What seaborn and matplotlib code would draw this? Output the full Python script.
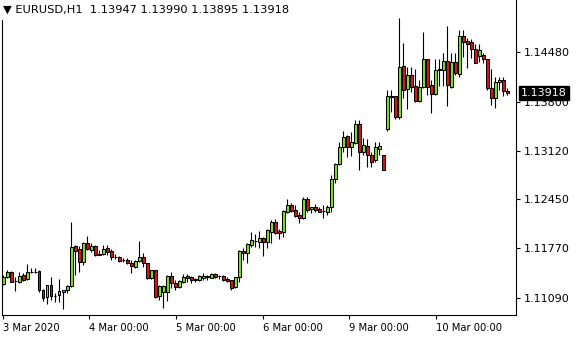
import numpy as np
import pandas as pd
import matplotlib
matplotlib.use("Agg")
import matplotlib.pyplot as plt
import matplotlib.transforms as mtrans
import seaborn as sns

title_text = "\u25BC EURUSD,H1  1.13947 1.13990 1.13895 1.13918"
last_price = 1.13918

opens = [1.11279, 1.11380, 1.11445, 1.11318, 1.11311, 1.11404, 1.11344, 1.11445, 1.11450, 1.11459,
         1.11192, 1.11096, 1.11261, 1.11115, 1.11127, 1.11173, 1.11192, 1.11247, 1.11800, 1.11759,
         1.11587, 1.11841, 1.11749, 1.11804, 1.11686, 1.11690, 1.11772, 1.11739, 1.11656, 1.11652,
         1.11605, 1.11611, 1.11573, 1.11518, 1.11597, 1.11652, 1.11565, 1.11358, 1.11473, 1.11118,
         1.11173, 1.11173, 1.11390, 1.11289, 1.11234, 1.11311, 1.11390, 1.11372, 1.11340, 1.11335,
         1.11366, 1.11384, 1.11366, 1.11413, 1.11385, 1.11390, 1.11352, 1.11335, 1.11234, 1.11372,
         1.11735, 1.11703, 1.11818, 1.11870, 1.11855, 1.11911, 1.11864, 1.12002, 1.12132, 1.12011,
         1.12002, 1.12278, 1.12371, 1.12301, 1.12232, 1.12195, 1.12449, 1.12311, 1.12339, 1.12311,
         1.12285, 1.12278, 1.12339, 1.12726, 1.12937, 1.13168, 1.13324, 1.13168, 1.13223, 1.13485,
         1.13099, 1.13190, 1.13061, 1.12992, 1.13140, 1.13061, 1.13420, 1.13870, 1.13876, 1.13590,
         1.14291, 1.13973, 1.14166, 1.14014, 1.13811, 1.13996, 1.14387, 1.14028, 1.13904, 1.14240,
         1.14235, 1.14360, 1.13996, 1.14342, 1.14180, 1.14709, 1.14640, 1.14626, 1.14521, 1.14429,
         1.14443, 1.14383, 1.13983, 1.13845, 1.14066, 1.14097, 1.13947]

highs = [1.11404, 1.11473, 1.11459, 1.11380, 1.11449, 1.11427, 1.11556, 1.11500, 1.11504, 1.11473,
         1.11214, 1.11270, 1.11380, 1.11151, 1.11344, 1.11198, 1.11265, 1.12136, 1.11822, 1.11808,
         1.11864, 1.11942, 1.11841, 1.11818, 1.11749, 1.11818, 1.11818, 1.11763, 1.11690, 1.11666,
         1.11643, 1.11643, 1.11611, 1.11611, 1.11873, 1.11703, 1.11573, 1.11476, 1.11476, 1.11265,
         1.11265, 1.11404, 1.11449, 1.11335, 1.11335, 1.11417, 1.11417, 1.11390, 1.11366, 1.11408,
         1.11427, 1.11404, 1.11427, 1.11427, 1.11404, 1.11404, 1.11372, 1.11338, 1.11380, 1.11749,
         1.11772, 1.11841, 1.11993, 1.11966, 1.12011, 1.11933, 1.12039, 1.12163, 1.12173, 1.12039,
         1.12301, 1.12449, 1.12394, 1.12371, 1.12278, 1.12477, 1.12485, 1.12347, 1.12384, 1.12347,
         1.12371, 1.12371, 1.12785, 1.12955, 1.13237, 1.13397, 1.13338, 1.13375, 1.13545, 1.13545,
         1.13292, 1.13278, 1.13107, 1.13245, 1.13245, 1.13065, 1.13959, 1.13959, 1.13880, 1.14954,
         1.14613, 1.14281, 1.14281, 1.14245, 1.14097, 1.14756, 1.14390, 1.14097, 1.14383, 1.14383,
         1.14466, 1.14847, 1.14466, 1.14466, 1.14788, 1.14788, 1.14673, 1.14660, 1.14595, 1.14595,
         1.14466, 1.14386, 1.14245, 1.14143, 1.14135, 1.14135, 1.13990]

lows = [1.11265, 1.11362, 1.11307, 1.11187, 1.11289, 1.11325, 1.11335, 1.11427, 1.11427, 1.11173,
        1.11044, 1.10999, 1.11058, 1.11035, 1.11035, 1.10934, 1.11151, 1.11238, 1.11399, 1.11449,
        1.11542, 1.11745, 1.11725, 1.11670, 1.11680, 1.11680, 1.11680, 1.11611, 1.11625, 1.11587,
        1.11579, 1.11551, 1.11427, 1.11504, 1.11579, 1.11518, 1.11355, 1.11355, 1.11082, 1.11058,
        1.10952, 1.11044, 1.11220, 1.11196, 1.11220, 1.11289, 1.11311, 1.11297, 1.11311, 1.11321,
        1.11335, 1.11335, 1.11358, 1.11358, 1.11344, 1.11321, 1.11311, 1.11196, 1.11220, 1.11311,
        1.11611, 1.11565, 1.11786, 1.11794, 1.11772, 1.11670, 1.11781, 1.11841, 1.11970, 1.11901,
        1.11933, 1.12256, 1.12270, 1.12209, 1.12118, 1.12177, 1.12278, 1.12256, 1.12270, 1.12270,
        1.12187, 1.12232, 1.12278, 1.12679, 1.12923, 1.13107, 1.13038, 1.13052, 1.13213, 1.12854,
        1.13061, 1.12900, 1.12891, 1.12969, 1.13061, 1.12850, 1.13397, 1.13659, 1.13554, 1.13554,
        1.13845, 1.13693, 1.13936, 1.13789, 1.13789, 1.13983, 1.13890, 1.13646, 1.13890, 1.14019,
        1.14019, 1.13738, 1.13983, 1.14166, 1.14143, 1.14419, 1.14267, 1.14397, 1.14328, 1.14350,
        1.14328, 1.13959, 1.13752, 1.13706, 1.13959, 1.13876, 1.13895]

closes = [1.11380, 1.11441, 1.11311, 1.11325, 1.11394, 1.11335, 1.11441, 1.11450, 1.11446, 1.11192,
          1.11090, 1.11261, 1.11113, 1.11120, 1.11178, 1.11196, 1.11247, 1.11790, 1.11739, 1.11579,
          1.11850, 1.11759, 1.11804, 1.11680, 1.11692, 1.11763, 1.11725, 1.11656, 1.11650, 1.11601,
          1.11610, 1.11565, 1.11528, 1.11597, 1.11652, 1.11565, 1.11358, 1.11473, 1.11104, 1.11252,
          1.11252, 1.11390, 1.11289, 1.11234, 1.11321, 1.11380, 1.11358, 1.11335, 1.11345, 1.11390,
          1.11390, 1.11379, 1.11413, 1.11380, 1.11390, 1.11335, 1.11325, 1.11228, 1.11372, 1.11735,
          1.11703, 1.11828, 1.11887, 1.11876, 1.11911, 1.11864, 1.12025, 1.12140, 1.11988, 1.11988,
          1.12288, 1.12371, 1.12292, 1.12223, 1.12195, 1.12453, 1.12301, 1.12339, 1.12301, 1.12278,
          1.12290, 1.12339, 1.12726, 1.12937, 1.13168, 1.13314, 1.13168, 1.13237, 1.13485, 1.13099,
          1.13199, 1.13061, 1.12969, 1.13176, 1.13186, 1.12854, 1.13876, 1.13864, 1.13582, 1.14273,
          1.13959, 1.14166, 1.14005, 1.13811, 1.13996, 1.14387, 1.13996, 1.13904, 1.14235, 1.14246,
          1.14360, 1.14028, 1.14342, 1.14190, 1.14709, 1.14626, 1.14595, 1.14521, 1.14336, 1.14512,
          1.14383, 1.13983, 1.13845, 1.14066, 1.14097, 1.13945, 1.13918]

x_tick_labels = ["3 Mar 2020", "4 Mar 00:00", "5 Mar 00:00", "6 Mar 00:00", "9 Mar 00:00", "10 Mar 00:00"]
y_ticks = [1.11090, 1.11770, 1.12450, 1.13120, 1.13800, 1.14480]

df = pd.DataFrame({"open": opens, "high": highs, "low": lows, "close": closes})
df["bar"] = np.arange(len(df))
df["up"] = df["close"] >= df["open"]

sns.set_theme(style="white")
plt.rcParams["font.family"] = ["DejaVu Sans"]

W, H = 580, 340
fig = plt.figure(figsize=(W / 100, H / 100), dpi=100)
fig.patch.set_facecolor("white")
ax = fig.add_axes([2 / W, 25 / H, 514 / W, 315 / H])
ax.set_facecolor("white")

UP, DOWN = "#80e21a", "#dc1414"

# wicks
ax.vlines(df["bar"], df["low"], df["high"], color="black", lw=0.8, zorder=1)
# bodies
body_bottom = np.minimum(df["open"], df["close"])
body_h = np.maximum(np.abs(df["close"] - df["open"]), 0.000004)
ax.bar(df["bar"], body_h, bottom=body_bottom, width=0.6,
       color=np.where(df["up"], UP, DOWN), edgecolor="black", linewidth=0.75, zorder=2)

ax.set_xlim(-0.325, 128.175)
ylo, yhi = 1.10851, 1.152024
ax.set_ylim(ylo, yhi)

# y axis on the right
ax.yaxis.tick_right()
ax.set_yticks(y_ticks)
ax.set_yticklabels([f"{v:.5f}" for v in y_ticks])
# x ticks
x_tick_pos = [-0.075, 21.43, 43.18, 64.93, 86.43, 108.18]
ax.set_xticks(x_tick_pos)
ax.set_xticklabels(x_tick_labels)
for lbl in ax.get_xticklabels():
    lbl.set_ha("left")
ax.tick_params(axis="both", direction="out", length=3, width=0.8, colors="black",
               labelsize=8, pad=2.5)
ax.tick_params(axis="x", labelsize=7.2)
ax.tick_params(axis="y", left=False, right=True)
ax.tick_params(axis="x", bottom=True)

for s in ["left", "right", "bottom"]:
    ax.spines[s].set_color("black")
    ax.spines[s].set_linewidth(0.8)
ax.spines["top"].set_visible(False)
ax.spines["left"].set_bounds(ylo, 1.14926)
ax.grid(False)

# current price label
tr = mtrans.blended_transform_factory(ax.transAxes, ax.transData)
ax.text(1 + 5 / 514, last_price, f"{last_price:.5f}", transform=tr, ha="left", va="center",
        color="white", fontsize=8, zorder=10, clip_on=False,
        bbox=dict(boxstyle="square,pad=0.2", fc="black", ec="black"))

fig.text(3 / W, 1 - 10 / H, title_text, ha="left", va="center", fontsize=8.2, color="black")

fig.savefig("out.png", dpi=100)
